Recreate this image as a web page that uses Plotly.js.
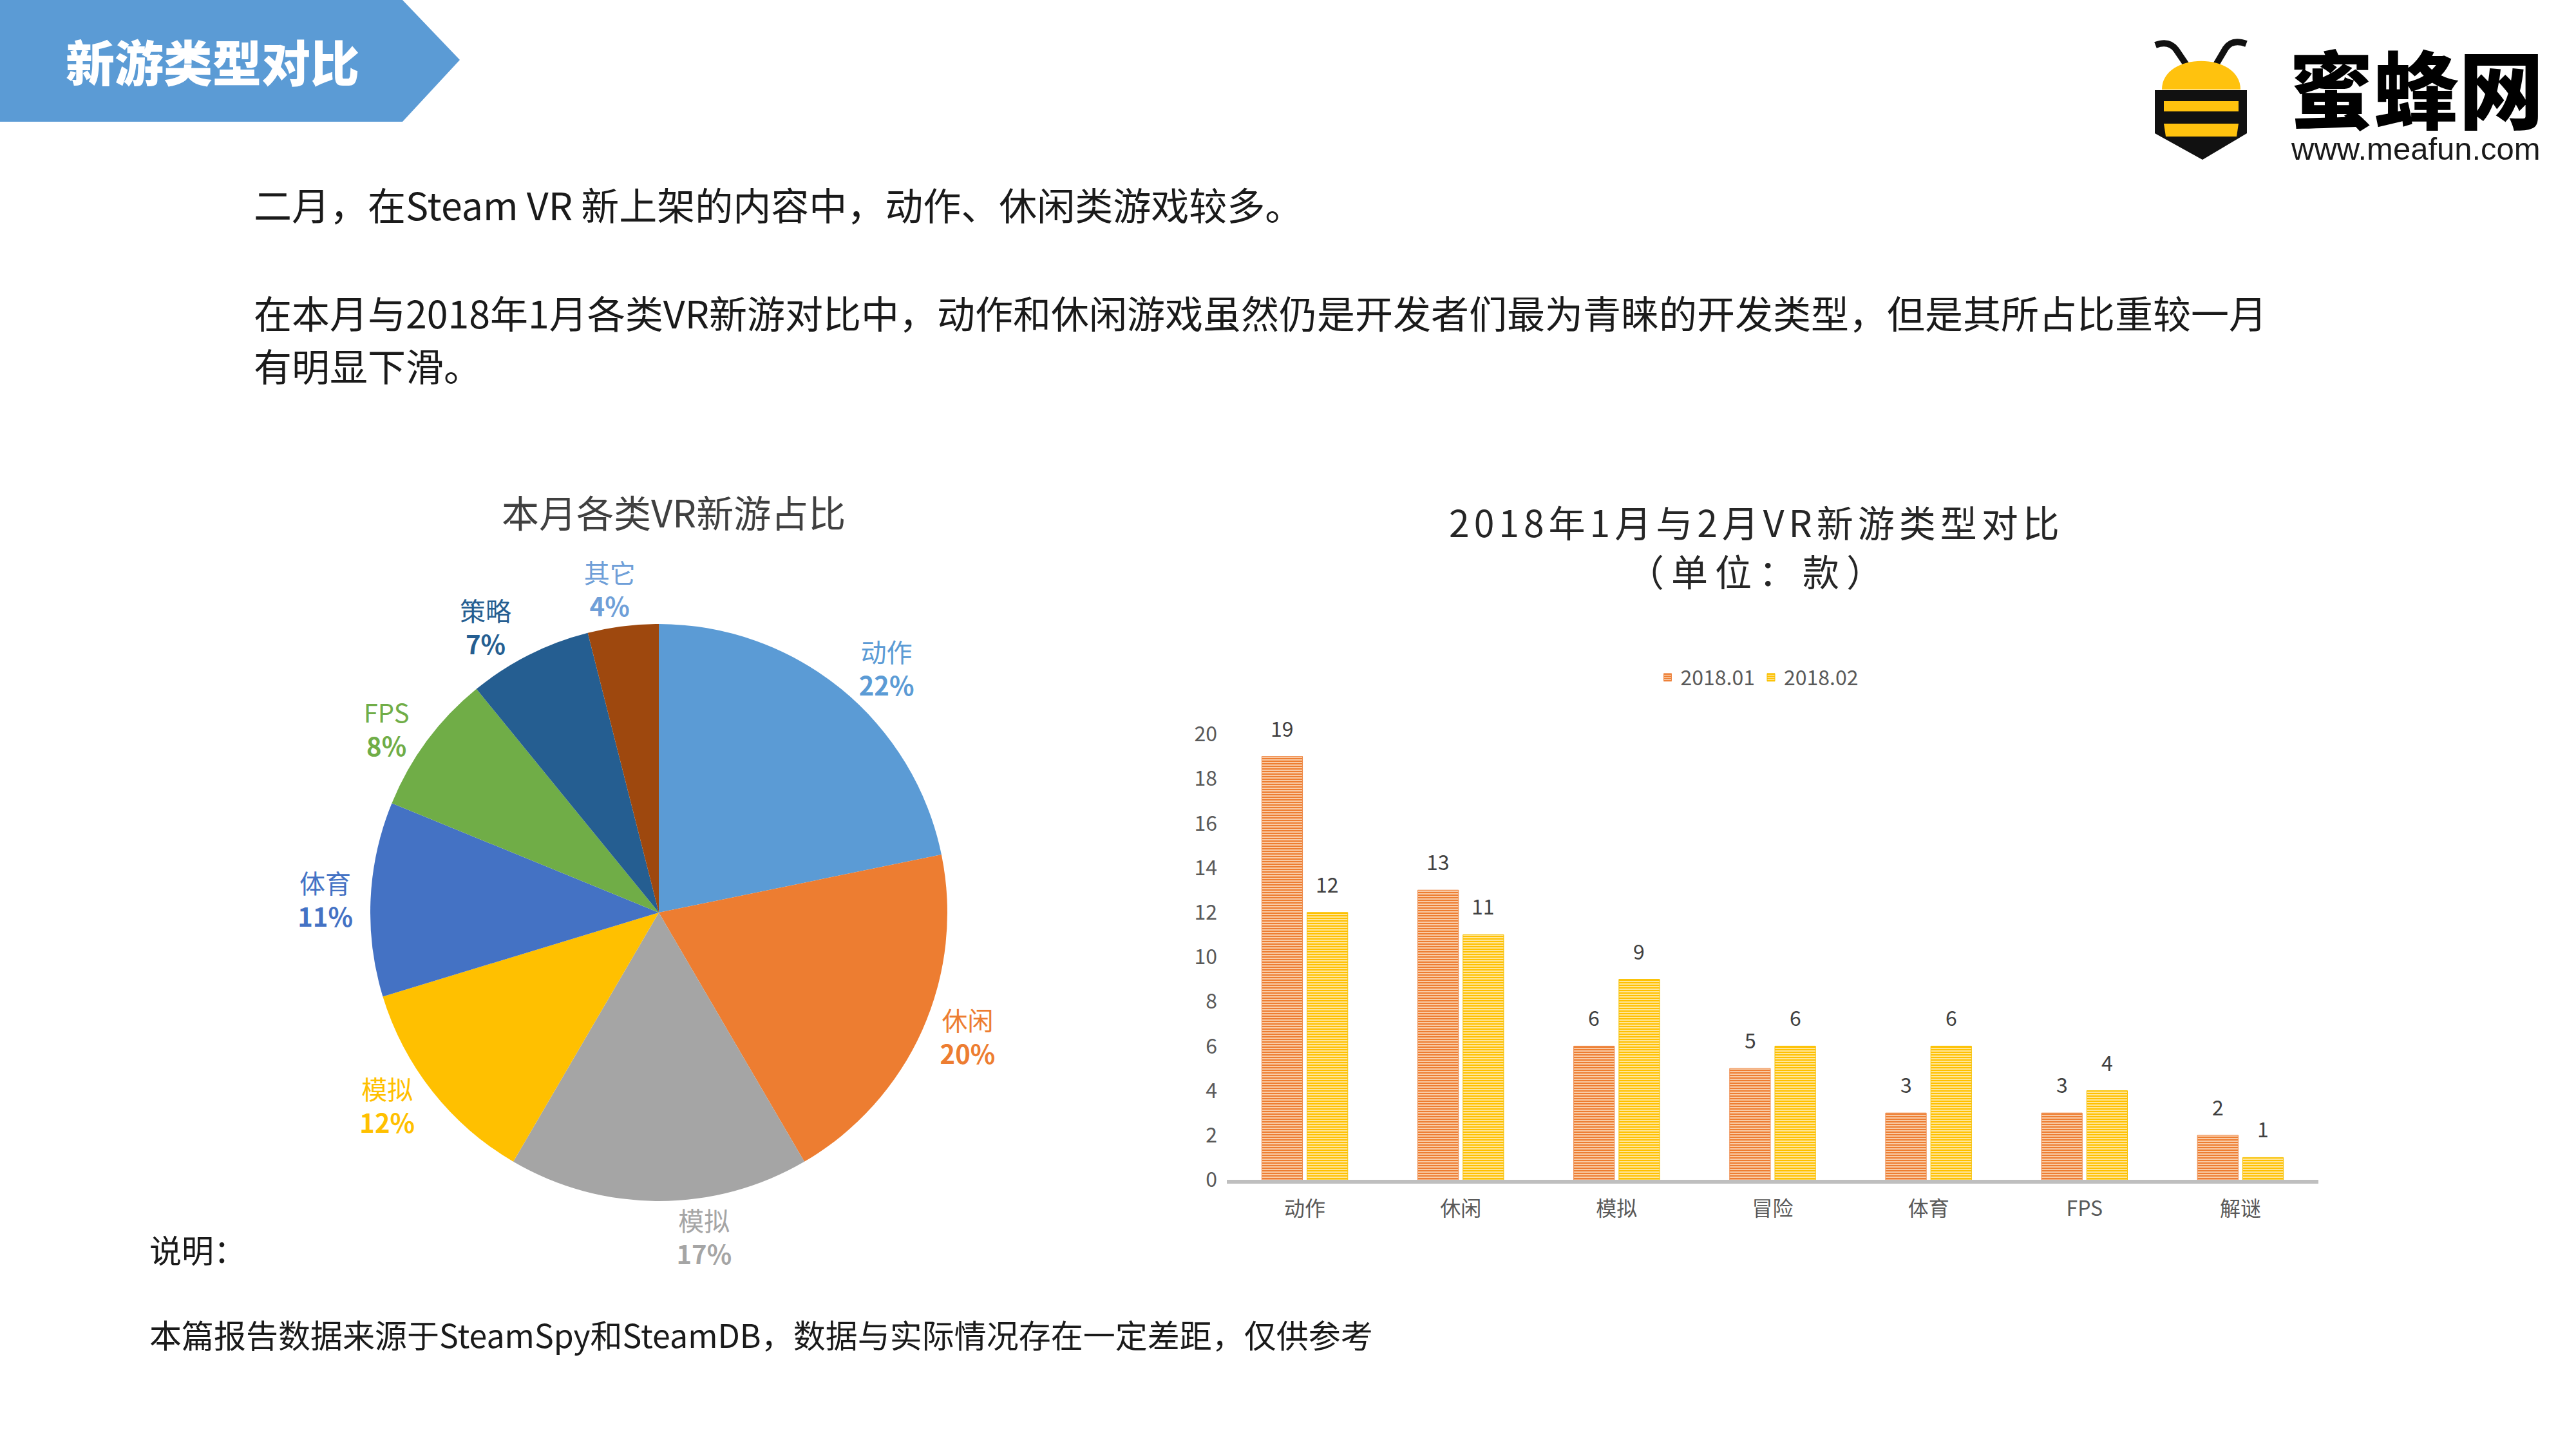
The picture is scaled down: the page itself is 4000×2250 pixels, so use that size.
<!DOCTYPE html>
<html>
<head>
<meta charset="utf-8">
<script src="https://cdn.plot.ly/plotly-3.0.1.min.js"></script>
<style>
  html, body { margin: 0; padding: 0; background: #ffffff; }
  #chart { width: 4000px; height: 2250px; }
  .annotation[data-index="8"] .annotation-text { letter-spacing: 7px; }
  .annotation[data-index="9"] .annotation-text { letter-spacing: 11px; }
</style>
</head>
<body>
<div id="chart"></div>
<script>
// ---------------- data ----------------
const headerTitle = '新游类型对比';
const logoName = '蜜蜂网';
const logoUrl = 'www.meafun.com';
const bodyLines = [
  '二月，在Steam VR 新上架的内容中，动作、休闲类游戏较多。',
  '在本月与2018年1月各类VR新游对比中，动作和休闲游戏虽然仍是开发者们最为青睐的开发类型，但是其所占比重较一月',
  '有明显下滑。'
];
const pieTitle = '本月各类VR新游占比';
const pieNames = ['动作', '休闲', '模拟', '模拟', '体育', 'FPS', '策略', '其它'];
const pieShares = [22, 20, 17, 12, 11, 8, 7, 4];
const barTitleLines = ['2018年1月与2月VR新游类型对比', '（单位：款）'];
const barCategories = ['动作', '休闲', '模拟', '冒险', '体育', 'FPS', '解谜'];
const seriesNames = ['2018.01', '2018.02'];
const janCounts = [19, 13, 6, 5, 3, 3, 2];
const febCounts = [12, 11, 9, 6, 6, 4, 1];
const yTickValues = [0, 2, 4, 6, 8, 10, 12, 14, 16, 18, 20];
const noteTitle = '说明：';
const noteText = '本篇报告数据来源于SteamSpy和SteamDB，数据与实际情况存在一定差距，仅供参考';

// ---------------- styles ----------------
const W = 4000, H = 2250;
const CJK = '"Noto Sans CJK SC", "Noto Sans", sans-serif';
const pieColors = ['#5B9BD5', '#ED7D31', '#A5A5A5', '#FFC000', '#4472C4', '#70AD47', '#255E91', '#9E480E'];
const pieLabelColors = ['#5B9BD5', '#ED7D31', '#A5A5A5', '#FFC000', '#4472C4', '#70AD47', '#255E91', '#6F9FD8'];
const fx = x => x / W;
const fy = y => 1 - y / H;
function pathC(cmds) {
  return cmds.map(c => {
    if (c[0] === 'Z') return 'Z';
    const pts = [];
    for (let i = 1; i < c.length; i += 2) pts.push(fx(c[i]).toFixed(5) + ',' + fy(c[i + 1]).toFixed(5));
    return c[0] + pts.join(' ');
  }).join(' ');
}

// ---------------- traces ----------------
const pieDomain = { x: [fx(575), fx(1471)], y: [fy(1865), fy(969)] };
const pieLabels = pieNames.map((n, i) => n + '\u200B'.repeat(i));
const lastIdx = pieNames.length - 1;
// main pie: all outside labels except the last small slice
const pieTrace = {
  type: 'pie',
  labels: pieLabels,
  values: pieShares,
  text: pieNames,
  texttemplate: '%{text}<br><b>%{percent:.0%}</b>',
  textposition: pieNames.map((n, i) => i === lastIdx ? 'none' : 'outside'),
  outsidetextfont: { family: CJK, size: 40, color: pieLabelColors },
  sort: false,
  direction: 'clockwise',
  rotation: 0,
  marker: { colors: pieColors, line: { width: 0 } },
  domain: pieDomain,
  showlegend: false,
  hoverinfo: 'skip'
};
// transparent twin of the pie, only carrying the label of the last slice
const pieLabelTwin = {
  type: 'pie',
  labels: pieLabels,
  values: pieShares,
  text: pieNames,
  texttemplate: '%{text}<br><b>%{percent:.0%}</b>',
  textposition: pieNames.map((n, i) => i === lastIdx ? 'outside' : 'none'),
  outsidetextfont: { family: CJK, size: 40, color: pieLabelColors },
  sort: false,
  direction: 'clockwise',
  rotation: 6,
  marker: { colors: pieNames.map(() => 'rgba(0,0,0,0)'), line: { width: 0 } },
  domain: pieDomain,
  showlegend: false,
  hoverinfo: 'skip'
};

const barJan = {
  type: 'bar',
  name: seriesNames[0],
  x: barCategories,
  y: janCounts,
  marker: {
    color: '#F4B183',
    line: { color: '#EE8A4A', width: 1 },
    pattern: { shape: '-', fgcolor: '#ED7D31', bgcolor: '#F9CBA6', size: 4, solidity: 0.5 }
  },
  hoverinfo: 'skip'
};
const barFeb = {
  type: 'bar',
  name: seriesNames[1],
  x: barCategories,
  y: febCounts,
  marker: {
    color: '#FFD966',
    line: { color: '#F5C000', width: 1 },
    pattern: { shape: '-', fgcolor: '#FFC000', bgcolor: '#FFE699', size: 4, solidity: 0.5 }
  },
  hoverinfo: 'skip'
};

// ---------------- annotations ----------------
function txt(text, x, y, size, color, opts) {
  return Object.assign({
    text: text, xref: 'paper', yref: 'paper', x: fx(x), y: fy(y),
    xanchor: 'center', yanchor: 'middle', showarrow: false,
    font: { family: CJK, size: size, color: color }
  }, opts || {});
}
const annotations = [
  txt(headerTitle, 330, 94, 76, '#ffffff', { font: { family: CJK, size: 76, color: '#ffffff', weight: 900 } }), // 0
  txt(logoName, 3752, 132, 132, '#000000', { height: 146, font: { family: CJK, size: 132, color: '#000000', weight: 900 } }), // 1
  txt(logoUrl, 3751, 231, 49, '#1a1a1a', { font: { family: '"Liberation Sans", Arial, sans-serif', size: 49, color: '#1a1a1a' } }), // 2
  txt(bodyLines[0], 392, 316, 59, '#1a1a1a', { xanchor: 'left' }), // 3
  txt(bodyLines[1], 392, 485, 59, '#1a1a1a', { xanchor: 'left' }), // 4
  txt(bodyLines[2], 392, 566, 59, '#1a1a1a', { xanchor: 'left' }), // 5
  txt(noteTitle, 230, 1939, 50, '#1a1a1a', { xanchor: 'left' }), // 6
  txt(noteText, 230, 2071, 50, '#1a1a1a', { xanchor: 'left' }), // 7
  txt(barTitleLines[0], 2727, 809, 57, '#262626'), // 8
  txt(barTitleLines[1], 2731, 885, 57, '#262626'), // 9
  txt(pieTitle, 1046, 794, 58, '#404040') // 10
];
// bar value labels, anchored to the bars through the chart axes
barCategories.forEach((c, i) => {
  annotations.push({ x: c, y: janCounts[i], xref: 'x', yref: 'y', text: String(janCounts[i]),
    showarrow: false, xshift: -35, yshift: 45, yanchor: 'middle',
    font: { family: CJK, size: 32, color: '#404040' } });
  annotations.push({ x: c, y: febCounts[i], xref: 'x', yref: 'y', text: String(febCounts[i]),
    showarrow: false, xshift: 35, yshift: 45, yanchor: 'middle',
    font: { family: CJK, size: 32, color: '#404040' } });
});

// ---------------- decorative shapes ----------------
const BEE_Y = '#FFC20E', BEE_K = '#111111';
const shapes = [
  { type: 'path', xref: 'paper', yref: 'paper', layer: 'below',
    path: pathC([['M', 0, 0], ['L', 625, 0], ['L', 714, 93], ['L', 625, 189], ['L', 0, 189], ['Z']]),
    fillcolor: '#5B9BD5', line: { width: 0 } },
  { type: 'path', xref: 'paper', yref: 'paper',
    path: pathC([['M', 3347, 70], ['Q', 3368, 62, 3379, 77], ['L', 3396, 102]]),
    line: { color: BEE_K, width: 10 } },
  { type: 'path', xref: 'paper', yref: 'paper',
    path: pathC([['M', 3488, 68], ['Q', 3466, 60, 3456, 75], ['L', 3440, 102]]),
    line: { color: BEE_K, width: 10 } },
  { type: 'path', xref: 'paper', yref: 'paper',
    path: pathC([['M', 3346, 140], ['L', 3489, 140], ['L', 3489, 207], ['L', 3420, 248], ['L', 3346, 207], ['Z']]),
    fillcolor: BEE_K, line: { width: 0 } },
  { type: 'path', xref: 'paper', yref: 'paper',
    path: pathC([['M', 3357, 139], ['C', 3357, 80, 3479, 80, 3479, 139], ['Z']]),
    fillcolor: BEE_Y, line: { width: 0 } },
  { type: 'path', xref: 'paper', yref: 'paper',
    path: pathC([['M', 3360, 157], ['L', 3476, 157], ['L', 3476, 173], ['L', 3360, 173], ['Z']]),
    fillcolor: BEE_Y, line: { width: 0 } },
  { type: 'path', xref: 'paper', yref: 'paper',
    path: pathC([['M', 3360, 192], ['L', 3476, 192], ['L', 3473, 212], ['L', 3363, 212], ['Z']]),
    fillcolor: BEE_Y, line: { width: 0 } }
];

// ---------------- layout ----------------
const layout = {
  width: W, height: H,
  margin: { l: 0, r: 0, t: 0, b: 0, pad: 0 },
  paper_bgcolor: '#ffffff',
  plot_bgcolor: 'rgba(0,0,0,0)',
  font: { family: CJK, color: '#595959' },
  barmode: 'group',
  bargap: 0.42,
  bargroupgap: 0.1,
  showlegend: true,
  legend: {
    orientation: 'h', x: 0.6825, xanchor: 'center', y: fy(1052), yanchor: 'middle',
    font: { family: CJK, size: 32, color: '#595959' }, bgcolor: 'rgba(0,0,0,0)', itemwidth: 30
  },
  xaxis: {
    domain: [fx(1905), fx(3600)], type: 'category',
    showline: true, linecolor: '#BFBFBF', linewidth: 6,
    ticks: '', showgrid: false, zeroline: false,
    tickfont: { family: CJK, size: 32, color: '#595959' },
    ticklabelstandoff: 12, fixedrange: true
  },
  yaxis: {
    domain: [fy(1832), fy(1140)], range: [0, 20],
    tickvals: yTickValues, ticktext: yTickValues.map(String),
    showline: false, showgrid: false, zeroline: false, ticks: '',
    tickfont: { family: CJK, size: 32, color: '#595959' },
    ticklabelstandoff: 14, fixedrange: true
  },
  annotations: annotations,
  shapes: shapes
};

Plotly.newPlot('chart', [pieTrace, pieLabelTwin, barJan, barFeb], layout, { displayModeBar: false, staticPlot: true });
</script>
</body>
</html>
